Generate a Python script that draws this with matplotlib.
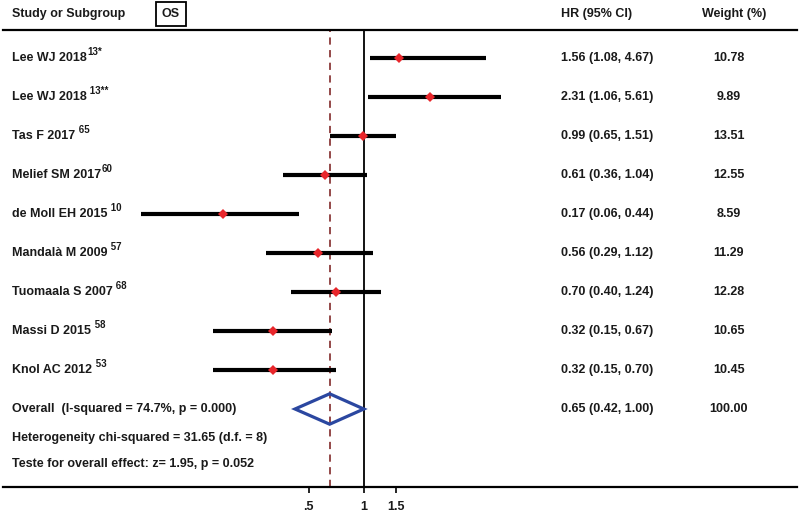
import matplotlib
matplotlib.use("Agg")
import matplotlib.pyplot as plt
import matplotlib.transforms as mtransforms
from matplotlib.patches import Polygon

# ==========================================
# Data
# ==========================================
studies = ["Lee WJ 2018", "Lee WJ 2018", "Tas F 2017", "Melief SM 2017",
           "de Moll EH 2015", "Mandalà M 2009", "Tuomaala S 2007",
           "Massi D 2015", "Knol AC 2012"]
refs = ["13*", " 13**", " 65", "60", " 10", " 57", " 68", " 58", " 53"]
hr = [1.56, 2.31, 0.99, 0.61, 0.17, 0.56, 0.70, 0.32, 0.32]
ci_low = [1.08, 1.06, 0.65, 0.36, 0.06, 0.29, 0.40, 0.15, 0.15]
ci_high = [4.67, 5.61, 1.51, 1.04, 0.44, 1.12, 1.24, 0.67, 0.70]
weights = [10.78, 9.89, 13.51, 12.55, 8.59, 11.29, 12.28, 10.65, 10.45]

overall_hr = 0.65
overall_low = 0.42
overall_high = 1.00
overall_weight = 100.00

overall_label = "Overall  (I-squared = 74.7%, p = 0.000)"
het_label = "Heterogeneity chi-squared = 31.65 (d.f. = 8)"
test_label = "Teste for overall effect: z= 1.95, p = 0.052"

xticks = [0.5, 1, 1.5]
xtick_labels = [".5", "1", "1.5"]

# ==========================================
# Plot
# ==========================================
plt.rcParams['font.family'] = ['Liberation Sans', 'DejaVu Sans']
TXT = "#1a1a1a"
FS = 9

fig = plt.figure(figsize=(8, 5.15), dpi=100)
ax = fig.add_axes([0.004, 28 / 515, 0.992, 457 / 515])
ax.set_xscale('log')
ax.set_xlim(0.0106, 235)
ax.set_ylim(11.0, -0.718)

# row positions
rows = list(range(len(studies)))
row_overall = len(studies)

# CI lines and point estimates
for i in rows:
    ax.plot([ci_low[i], ci_high[i]], [i, i], color='black', lw=3, solid_capstyle='butt', zorder=3)
    ax.plot(hr[i], i, marker='D', color='#e8262b', markersize=5.5, zorder=4, markeredgewidth=0)

# reference lines
ax.axvline(1, color='black', lw=1.3, zorder=2)
ax.axvline(overall_hr, color='#8b3a3a', lw=1.3, ls=(0, (4, 3)), zorder=2)

# overall diamond
diamond = Polygon([(overall_low, row_overall), (overall_hr, row_overall - 0.39),
                   (overall_high, row_overall), (overall_hr, row_overall + 0.39)],
                  closed=True, fill=False, edgecolor='#2b47a0', lw=2.3, zorder=5)
ax.add_patch(diamond)

# axes styling
for side in ['left', 'right']:
    ax.spines[side].set_visible(False)
ax.spines['top'].set_linewidth(1.6)
ax.spines['bottom'].set_linewidth(1.6)
ax.set_yticks([])
ax.set_xticks(xticks)
ax.set_xticklabels(xtick_labels, fontsize=FS, fontweight='bold', color=TXT)
ax.minorticks_off()
ax.tick_params(axis='x', direction='out', length=4, width=1.2, pad=6)

trans = mtransforms.blended_transform_factory(ax.transAxes, ax.transData)
def fx(px):
    return (px - 0.004 * 800) / (0.992 * 800)

# header
ax.text(fx(12), -1.128, "Study or Subgroup", transform=trans, fontsize=FS, fontweight='bold',
        color=TXT, va='center', ha='left', clip_on=False)
ax.text(fx(171), -1.128, "OS", transform=trans, fontsize=FS, fontweight='bold',
        color=TXT, va='center', ha='center', clip_on=False,
        bbox=dict(boxstyle='square,pad=0.45', fc='white', ec='black', lw=1.3))
ax.text(fx(561), -1.128, "HR (95% CI)", transform=trans, fontsize=FS, fontweight='bold',
        color=TXT, va='center', ha='left', clip_on=False)
ax.text(fx(734), -1.128, "Weight (%)", transform=trans, fontsize=FS, fontweight='bold',
        color=TXT, va='center', ha='center', clip_on=False)

# study rows
for i in rows:
    t = ax.text(fx(12), i, studies[i], transform=trans, fontsize=FS, fontweight='bold',
                color=TXT, va='center', ha='left', clip_on=False)
    ax.annotate(refs[i], xy=(1, 0.55), xycoords=t, xytext=(0.5, 0), textcoords='offset points',
                fontsize=7, fontweight='bold', color=TXT, va='bottom', ha='left')
    ax.text(fx(561), i, f"{hr[i]:.2f} ({ci_low[i]:.2f}, {ci_high[i]:.2f})", transform=trans,
            fontsize=FS, fontweight='bold', color=TXT, va='center', ha='left', clip_on=False)
    ax.text(fx(729), i, f"{weights[i]:.2f}", transform=trans, fontsize=FS, fontweight='bold',
            color=TXT, va='center', ha='center', clip_on=False)

# overall rows
ax.text(fx(12), row_overall, overall_label, transform=trans, fontsize=FS, fontweight='bold',
        color=TXT, va='center', ha='left', clip_on=False)
ax.text(fx(561), row_overall, f"{overall_hr:.2f} ({overall_low:.2f}, {overall_high:.2f})",
        transform=trans, fontsize=FS, fontweight='bold', color=TXT, va='center', ha='left', clip_on=False)
ax.text(fx(729), row_overall, f"{overall_weight:.2f}", transform=trans, fontsize=FS,
        fontweight='bold', color=TXT, va='center', ha='center', clip_on=False)
ax.text(fx(12), 9.74, het_label, transform=trans, fontsize=FS, fontweight='bold',
        color=TXT, va='center', ha='left', clip_on=False)
ax.text(fx(12), 10.41, test_label, transform=trans, fontsize=FS, fontweight='bold',
        color=TXT, va='center', ha='left', clip_on=False)

fig.savefig("out.png", dpi=100)
